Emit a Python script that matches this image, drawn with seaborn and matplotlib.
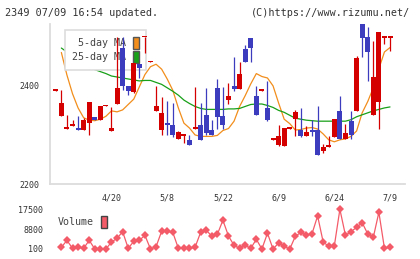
import matplotlib
matplotlib.use('Agg')
import matplotlib.pyplot as plt
import numpy as np
import pandas as pd
import seaborn as sns
from matplotlib.patches import Patch

RED = '#d40000'
BLUE = '#3c3cbe'
ORANGE = '#f28e1c'
GREEN = '#18a018'
VOLC = '#f45b69'
GRID = '#dcdcdc'
TXT = '#333333'

# x labels (trading-day index -> date)
date_idx = [10, 20, 30, 40, 50, 60]
dates = ['4/20', '5/8', '5/22', '6/9', '6/24', '7/9']

# daily candles
opens = [2390, 2339, 2312, 2319, 2312, 2310, 2325, 2337, 2331, 2358,
         2309, 2362, 2478, 2399, 2388, 2444, 2499, 2448, 2348, 2310,
         2324, 2321, 2291, 2298, 2290, 2312, 2320, 2340, 2310, 2396,
         2338, 2372, 2400, 2394, 2475, 2498, 2380, 2390, 2355, 2290,
         2280, 2278, 2313, 2333, 2311, 2298, 2311, 2311, 2267, 2276,
         2296, 2349, 2292, 2329, 2348, 2525, 2500, 2341, 2368, 2498, 2498]
highs = [2392, 2391, 2341, 2330, 2338, 2334, 2368, 2337, 2359, 2360,
         2357, 2500, 2500, 2399, 2446, 2444, 2500, 2450, 2400, 2378,
         2369, 2366, 2308, 2299, 2299, 2398, 2365, 2396, 2330, 2414,
         2398, 2406, 2459, 2449, 2483, 2498, 2400, 2392, 2410, 2292,
         2320, 2314, 2315, 2350, 2355, 2318, 2330, 2359, 2281, 2298,
         2332, 2380, 2323, 2349, 2461, 2525, 2520, 2492, 2510, 2499, 2499]
lows = [2390, 2339, 2312, 2318, 2310, 2310, 2299, 2330, 2331, 2358,
        2309, 2362, 2392, 2382, 2385, 2415, 2466, 2448, 2348, 2299,
        2299, 2296, 2291, 2284, 2279, 2312, 2290, 2299, 2299, 2313,
        2313, 2364, 2389, 2394, 2448, 2448, 2341, 2390, 2329, 2290,
        2278, 2278, 2313, 2298, 2296, 2298, 2298, 2259, 2264, 2276,
        2296, 2292, 2292, 2291, 2348, 2458, 2410, 2341, 2312, 2486, 2470]
closes = [2392, 2366, 2314, 2321, 2310, 2331, 2368, 2330, 2359, 2360,
          2314, 2396, 2399, 2390, 2446, 2437, 2500, 2450, 2359, 2345,
          2320, 2299, 2306, 2299, 2279, 2316, 2290, 2304, 2299, 2337,
          2321, 2380, 2394, 2424, 2448, 2478, 2341, 2392, 2331, 2292,
          2298, 2314, 2315, 2347, 2298, 2306, 2306, 2259, 2276, 2278,
          2332, 2292, 2304, 2299, 2456, 2498, 2469, 2418, 2510, 2499, 2499]

nan = np.nan
ma5 = [nan, 2468, 2422, 2384, 2355, 2335, 2330, 2329, 2332, 2338,
       2349, 2347, 2351, 2362, 2373, 2398, 2423, 2439, 2444, 2434,
       2414, 2391, 2355, 2324, 2314, 2300, 2297, 2297, 2297, 2299,
       2309, 2313, 2328, 2358, 2380, 2404, 2425, 2419, 2416, 2400,
       2365, 2332, 2323, 2310, 2311, 2314, 2315, 2312, 2302, 2290,
       2286, 2290, 2292, 2297, 2308, 2345, 2368, 2396, 2435, 2469, 2478]
ma25 = [nan, 2477, 2469, 2461, 2453, 2445, 2439, 2433, 2429, 2425,
        2420, 2418, 2416, 2414, 2412, 2410, 2411, 2411, 2407, 2403,
        2396, 2389, 2381, 2371, 2364, 2358, 2354, 2352, 2352, 2352,
        2352, 2353, 2353, 2354, 2358, 2362, 2363, 2363, 2360, 2356,
        2350, 2346, 2340, 2334, 2332, 2330, 2329, 2328, 2328, 2328,
        2328, 2328, 2328, 2331, 2337, 2341, 2345, 2349, 2352, 2355, 2357]
volume = [nan, 830, 3900, 400, 830, 400, 3900, 100, 100, 100,
          3170, 4780, 7700, 400, 3460, 3900, 6100, 100, 1120, 7850,
          7850, 7400, 400, 400, 400, 830, 7400, 8300, 5800, 6500,
          12700, 5800, 1700, 400, 1700, 400, 4340, 100, 7000, 100,
          2730, 1270, 100, 5650, 7400, 6100, 6800, 14600, 3170, 1270,
          1400, 17500, 6100, 7700, 9600, 11650, 6700, 5200, 16200, 400, 830]
vol_ticks = [100, 8800, 17500]

sns.set_style('white')
plt.rcParams['font.family'] = ['DejaVu Sans Mono']

fig = plt.figure(figsize=(4.2, 2.59), dpi=100)
ax = fig.add_axes([50 / 420, 1 - 184 / 259, 355 / 420, 160 / 259])
axv = fig.add_axes([50 / 420, 1 - 249 / 259, 355 / 420, 39.7 / 259])

n = len(opens)
xs = np.arange(n)
o = np.array(opens, float)
c = np.array(closes, float)
h = np.array(highs, float)
l = np.array(lows, float)
cols = np.where(c >= o, RED, BLUE)

df = pd.DataFrame({'x': xs, 'ma5': ma5, 'ma25': ma25, 'vol': volume}).dropna()

# moving averages
sns.lineplot(data=df, x='x', y='ma5', ax=ax, color=ORANGE, lw=0.9, zorder=1)
sns.lineplot(data=df, x='x', y='ma25', ax=ax, color=GREEN, lw=0.9, zorder=1)

# candles
ax.vlines(xs, l, h, colors=cols, lw=0.9, zorder=3)
body = np.maximum(np.abs(c - o), 3.5)
ax.bar(xs, body, bottom=np.minimum(o, c), width=0.9, color=cols, lw=0, zorder=3)

xlim = (-1.04, 62.69)
ax.set_xlim(*xlim)
ax.set_ylim(2200, 2526)
ax.set_xlabel('')
ax.set_ylabel('')
ax.set_yticks([2200, 2400])
ax.set_xticks(date_idx)
ax.set_xticklabels(dates)
ax.set_xticks(np.linspace(xlim[0], xlim[1], 12), minor=True)
ax.tick_params(axis='x', which='major', length=0, pad=7, labelsize=6, labelcolor=TXT)
ax.tick_params(axis='x', which='minor', length=6, direction='inout', width=1, color=GRID)
ax.tick_params(axis='y', length=6, direction='inout', width=1, color=GRID,
               labelsize=6, labelcolor=TXT, pad=4.5)
for s in ['top', 'right']:
    ax.spines[s].set_visible(False)
for s in ['left', 'bottom']:
    ax.spines[s].set_color(GRID)
    ax.spines[s].set_linewidth(1.3)

handles = [Patch(facecolor=ORANGE, edgecolor='#555555', lw=1, label='5-day MA'),
           Patch(facecolor=GREEN, edgecolor='#555555', lw=1, label='25-day MA')]
leg = ax.legend(handles=handles, loc='upper left',
                bbox_to_anchor=((65 - 50) / 355, (184 - 30) / 160), borderaxespad=0,
                markerfirst=False, fontsize=7.2, frameon=True, fancybox=False,
                framealpha=1, edgecolor='#dddddd', handlelength=0.56,
                handleheight=1.5, handletextpad=0.7, labelspacing=0.17, borderpad=0.7)
leg.get_frame().set_linewidth(1.2)
leg.set_zorder(2)
for t in leg.get_texts():
    t.set_color('#444444')

# volume panel
sns.lineplot(data=df, x='x', y='vol', ax=axv, color=VOLC, lw=0.9, marker='D',
             markersize=4, markeredgewidth=0, clip_on=False)
axv.set_xlim(*xlim)
axv.set_ylim(vol_ticks[0], vol_ticks[-1])
axv.set_xlabel('')
axv.set_ylabel('')
axv.set_xticks([])
axv.set_yticks(vol_ticks)
axv.set_yticklabels([str(v) for v in vol_ticks])
axv.tick_params(axis='y', length=0, pad=5, labelsize=6, labelcolor=TXT)
for s in axv.spines.values():
    s.set_visible(False)
axv.patch.set_alpha(0)
vleg = axv.legend(handles=[Patch(facecolor=VOLC, edgecolor='#444444', lw=1, label='Volume')],
                  loc='center left', bbox_to_anchor=((58 - 50) / 355, (249 - 222) / 39.7),
                  borderaxespad=0, borderpad=0, markerfirst=False, frameon=False,
                  fontsize=7.2, handlelength=0.6, handleheight=1.5, handletextpad=0.7)
for t in vleg.get_texts():
    t.set_color('#444444')

fig.text(5 / 420, 1 - 13 / 259, '2349 07/09 16:54 updated.', fontsize=7.3,
         va='center', ha='left', color=TXT)
fig.text(410 / 420, 1 - 13 / 259, '(C)https://www.rizumu.net/', fontsize=7.3,
         va='center', ha='right', color=TXT)

fig.savefig('out.png', dpi=100)
